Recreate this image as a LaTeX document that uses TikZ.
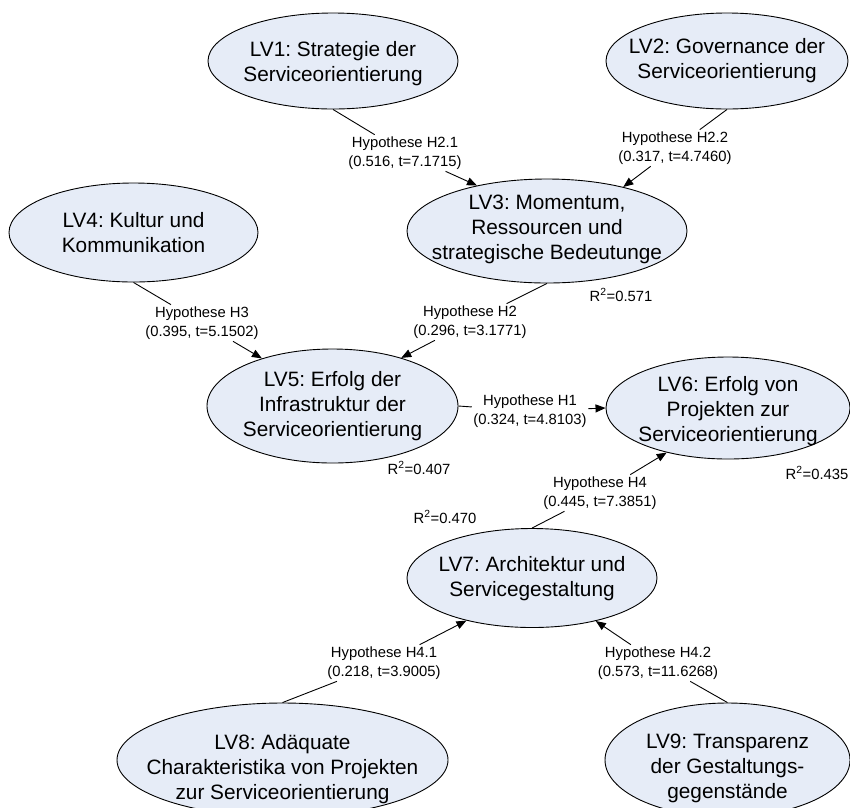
\documentclass[tikz,border=0pt]{standalone}
\usepackage{fontspec}
\setmainfont{Liberation Sans}
\usetikzlibrary{shapes.geometric,arrows.meta}
\definecolor{lvfill}{RGB}{230,236,247}
\frenchspacing
\begin{document}
\begin{tikzpicture}[x=1pt,y=-1pt,
  lv/.style={ellipse,draw=black,line width=0.9pt,fill=lvfill,inner sep=0pt},
  lvtext/.style={align=center,font=\frenchspacing\fontsize{20.8}{25}\selectfont,inner sep=0pt},
  hyp/.style={align=center,font=\frenchspacing\fontsize{14.8}{19.5}\selectfont,inner sep=1.5pt},
  rsq/.style={font=\fontsize{14.8}{17}\selectfont,inner sep=0pt},
  conn/.style={line width=0.9pt},
  arr/.style={conn,-{Triangle[length=10pt,width=8pt]}}
]
\useasboundingbox (0,0) rectangle (850,807);

% ellipses
\node[lv,minimum width=250pt,minimum height=96pt] (lv1) at (333,61) {};
\node[lv,minimum width=242pt,minimum height=96pt] (lv2) at (727,61) {};
\node[lv,minimum width=280pt,minimum height=104pt] (lv3) at (547,231) {};
\node[lv,minimum width=249pt,minimum height=99pt] (lv4) at (133.5,232.5) {};
\node[lv,minimum width=251pt,minimum height=114pt] (lv5) at (332.5,406) {};
\node[lv,minimum width=244pt,minimum height=102pt] (lv6) at (728,408) {};
\node[lv,minimum width=250pt,minimum height=99pt] (lv7) at (532,578) {};
\node[lv,minimum width=331pt,minimum height=114pt] (lv8) at (282.5,760) {};
\node[lv,minimum width=245pt,minimum height=114pt] (lv9) at (727.5,760) {};

% ellipse texts
\node[lvtext] (lv1t) at (333,64) {LV1: Strategie der\\Serviceorientierung};
\node[lvtext] (lv2t) at (727,61) {LV2: Governance der\\Serviceorientierung};
\node[lvtext] (lv3t) at (547,229) {LV3: Momentum,\\Ressourcen und\\strategische Bedeutunge};
\node[lvtext] (lv4t) at (133.5,232.5) {LV4: Kultur und\\Kommunikation};
\node[lvtext] (lv5t) at (332.5,406) {LV5: Erfolg der\\Infrastruktur der\\Serviceorientierung};
\node[lvtext] (lv6t) at (728,411) {LV6: Erfolg von\\Projekten zur\\Serviceorientierung};
\node[lvtext] (lv7t) at (532,578.5) {LV7: Architektur und\\Servicegestaltung};
\node[lvtext] (lv8t) at (282.5,769) {LV8: Adäquate\\Charakteristika von Projekten\\zur Serviceorientierung};
\node[lvtext] (lv9t) at (727.5,768) {LV9: Transparenz\\der Gestaltungs-\\gegenstände};

% hypothesis labels
\node[hyp] (h21) at (405,153) {Hypothese H2.1\\(0.516, t=7.1715)};
\node[hyp] (h22) at (675,148) {Hypothese H2.2\\(0.317, t=4.7460)};
\node[hyp] (h3) at (202,323) {Hypothese H3\\(0.395, t=5.1502)};
\node[hyp] (h2) at (470,322) {Hypothese H2\\(0.296, t=3.1771)};
\node[hyp] (h1) at (530,411) {Hypothese H1\\(0.324, t=4.8103)};
\node[hyp] (h4) at (600,493) {Hypothese H4\\(0.445, t=7.3851)};
\node[hyp] (h41) at (384,663) {Hypothese H4.1\\(0.218, t=3.9005)};
\node[hyp] (h42) at (658,663) {Hypothese H4.2\\(0.573, t=11.6268)};

% R^2 labels
\node[rsq] (r3) at (621,295) {R\textsuperscript{2}=0.571};
\node[rsq] (r5) at (419,468) {R\textsuperscript{2}=0.407};
\node[rsq] (r6) at (817,473) {R\textsuperscript{2}=0.435};
\node[rsq] (r7) at (445,517) {R\textsuperscript{2}=0.470};

% connectors
\draw[conn] (lv1.south) -- (h21);
\draw[arr] (h21) -- (lv3.147);
\draw[conn] (lv2.south) -- (h22);
\draw[arr] (h22) -- (lv3.30);
\draw[conn] (lv4.south) -- (h3);
\draw[arr] (h3) -- (lv5.146);
\draw[conn] (lv3.south) -- (h2);
\draw[arr] (h2) -- (lv5.35);
\draw[conn] (lv5.east) -- (h1);
\draw[arr] (h1) -- (lv6.west);
\draw[conn] (lv7.north) -- (h4);
\draw[arr] (h4) -- (lv6.216);
\draw[conn] (lv8.north) -- (h41);
\draw[arr] (h41) -- (lv7.213);
\draw[conn] (lv9.north) -- (h42);
\draw[arr] (h42) -- (lv7.-34);
\end{tikzpicture}
\end{document}
